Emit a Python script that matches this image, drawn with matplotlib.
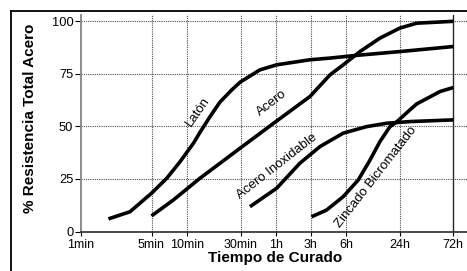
import numpy as np
import matplotlib
matplotlib.use("Agg")
import matplotlib.pyplot as plt
from matplotlib.lines import Line2D

plt.rcParams['font.family'] = ['Liberation Sans', 'DejaVu Sans']

# ---- data (x in minutes, y in % total strength) ----
tick_minutes = [1, 5, 10, 30, 60, 180, 360, 1440, 4320]
tick_labels = ['1min', '5min', '10min', '30min', '1h', '3h', '6h', '24h', '72h']

laton_x = [1.87, 3.06, 5.0, 6.73, 8.73, 11.4, 13.0, 16.0, 19.5, 25.0, 29.4, 43.6, 61.4, 174, 262, 473, 1440, 4320]
laton_y = [6.0, 9.4, 18.2, 25.3, 33.2, 42.0, 47.1, 54.7, 61.5, 67.5, 71.0, 76.9, 79.3, 81.7, 82.5, 83.8, 85.6, 88.0]

acero_x = [5.0, 7.66, 13.0, 29.4, 61.4, 174, 262, 341, 515, 861, 1440, 2032, 4320]
acero_y = [7.4, 15.0, 25.3, 39.6, 52.6, 64.2, 74.5, 79.3, 85.6, 92.0, 96.8, 99.1, 100.0]

inox_x = [35.8, 61.4, 127, 215, 341, 612, 1023, 1770, 4320]
inox_y = [11.8, 20.6, 32.5, 40.4, 46.8, 49.9, 51.5, 52.3, 53.1]

zinc_x = [182, 245, 341, 493, 667, 861, 1114, 1334, 1770, 2032, 3289, 4320]
zinc_y = [7.0, 10.2, 16.6, 24.5, 34.0, 42.8, 49.9, 52.3, 57.9, 60.7, 66.6, 68.5]

y_ticks = [0, 25, 50, 75, 100]

# ---- layout: the hand-drawn time axis (relative pixel offsets of the ticks) ----
TICK_POS = np.array([0, 70.5, 106, 160, 195, 230, 265, 319, 372.3])
LT = np.log10(np.array(tick_minutes, dtype=float))


def fwd(x):
    lx = np.log10(np.maximum(np.asarray(x, dtype=float), 1e-6))
    y = np.interp(lx, LT, TICK_POS)
    s0 = (TICK_POS[1] - TICK_POS[0]) / (LT[1] - LT[0])
    s1 = (TICK_POS[-1] - TICK_POS[-2]) / (LT[-1] - LT[-2])
    y = np.where(lx < LT[0], TICK_POS[0] + (lx - LT[0]) * s0, y)
    y = np.where(lx > LT[-1], TICK_POS[-1] + (lx - LT[-1]) * s1, y)
    return y


def inv(p):
    p = np.asarray(p, dtype=float)
    l = np.interp(p, TICK_POS, LT)
    s0 = (LT[1] - LT[0]) / (TICK_POS[1] - TICK_POS[0])
    s1 = (LT[-1] - LT[-2]) / (TICK_POS[-1] - TICK_POS[-2])
    l = np.where(p < TICK_POS[0], LT[0] + (p - TICK_POS[0]) * s0, l)
    l = np.where(p > TICK_POS[-1], LT[-1] + (p - TICK_POS[-1]) * s1, l)
    return 10 ** l


W, H = 467, 271
fig = plt.figure(figsize=(W / 100, H / 100), dpi=100)
fig.patch.set_facecolor('white')
ax = fig.add_axes([81 / W, (H - 231.5) / H, (W - 81) / W, 216.5 / H])
ax.set_xscale('function', functions=(fwd, inv))
ax.set_xlim(1, float(inv(386.0)))
ax.set_ylim(0, 103)

# grid
gkw = dict(color='0.3', lw=0.8, ls=(0, (1, 1)), zorder=1)
for yv in y_ticks[1:]:
    ax.axhline(yv, **gkw)
for xv in tick_minutes[1:-1]:
    ax.axvline(xv, **gkw)
ax.axvline(tick_minutes[-1], color='0.15', lw=1.0, zorder=1)

# curves
lkw = dict(color='black', lw=2.6, solid_capstyle='butt', solid_joinstyle='round', zorder=3)
ax.plot(laton_x, laton_y, **lkw)
ax.plot(acero_x, acero_y, **lkw)
ax.plot(inox_x, inox_y, **lkw)
ax.plot(zinc_x, zinc_y, **lkw)

# curve labels
tkw = dict(transform=ax.transAxes, ha='center', va='center', rotation_mode='anchor',
           fontsize=9.5, color='black', zorder=4)
ax.text(0.3018, 0.5520, 'Latón', rotation=55, **tkw)
ax.text(0.4940, 0.5921, 'Acero', rotation=38, **tkw)
ax.text(0.5070, 0.2993, 'Acero Inoxidable', rotation=38, **tkw)
ax.text(0.7637, 0.2531, 'Zincado Bicromatado', rotation=52, **tkw)

# axes styling
for s in ['top', 'right']:
    ax.spines[s].set_visible(False)
ax.spines['left'].set_color('0.55')
ax.spines['left'].set_linewidth(1.4)
ax.spines['bottom'].set_color('0.1')
ax.spines['bottom'].set_linewidth(1.1)

ax.set_xticks(tick_minutes)
ax.set_xticklabels(tick_labels)
ax.xaxis.set_minor_locator(matplotlib.ticker.NullLocator())
ax.set_yticks(y_ticks)
ax.set_yticklabels([str(v) for v in y_ticks])
ax.tick_params(axis='x', direction='out', length=3, width=0.8, pad=2.2, labelsize=9, colors='black')
ax.tick_params(axis='y', direction='out', length=4, width=0.8, pad=1.5, labelsize=9.3, colors='black')

fig.text(274.7 / W, (H - 258) / H, 'Tiempo de Curado', ha='center', va='center',
         fontsize=11, fontweight='bold')
fig.text(30 / W, (H - 118) / H, '% Resistencia Total Acero', ha='center', va='center',
         rotation=90, fontsize=11, fontweight='bold')

# outer frame (left and top edges visible)
fig.add_artist(Line2D([11 / W, 11 / W], [0, (H - 11) / H], color='black', lw=1.3,
                      transform=fig.transFigure))
fig.add_artist(Line2D([11 / W, 1], [(H - 11) / H, (H - 11) / H], color='black', lw=1.3,
                      transform=fig.transFigure))

fig.savefig('out.png', dpi=100)
